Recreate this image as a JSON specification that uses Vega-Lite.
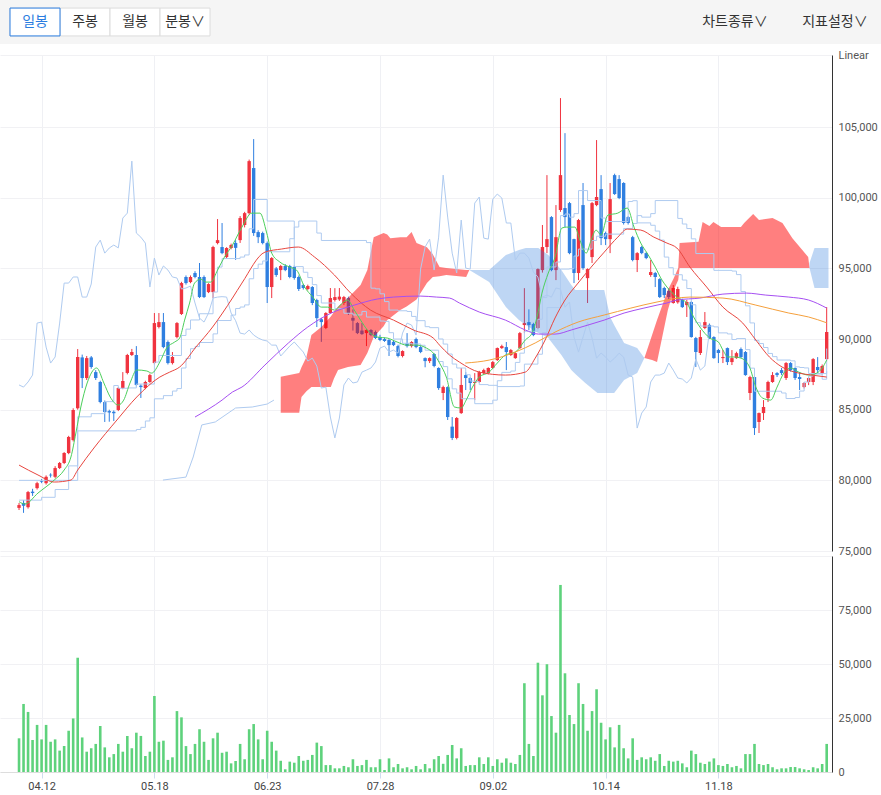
{
"$schema":"https://vega.github.io/schema/vega-lite/v6.json",
"padding":0,
"background":"#ffffff",
"bounds":"flush",
"spacing":11,
"config":{"view":{"stroke":null},"axis":{"labelFont":"Roboto","labelFontSize":11,"labelColor":"#555555"}},
"datasets":{
"tb":[{"b":"일봉"},{"b":"주봉"},{"b":"월봉"},{"b":"분봉∨"},{"b":"차트종류∨"},{"b":"지표설정∨"}],
"k":[
{"i":0,"o":78050,"h":78400,"l":77900,"c":78250,"v":15600,"g":86750},
{"i":1,"o":78400,"h":78600,"l":77700,"c":78200,"v":31500,"g":86600},
{"i":2,"o":78100,"h":79250,"l":78000,"c":79170,"v":27800,"g":86960},
{"i":3,"o":79200,"h":79400,"l":78900,"c":79100,"v":14800,"g":87450},
{"i":4,"o":79450,"h":79900,"l":79350,"c":79800,"v":21800,"g":91130},
{"i":5,"o":79950,"h":80100,"l":79800,"c":79900,"v":15100,"g":91200},
{"i":6,"o":79800,"h":80350,"l":79700,"c":80250,"v":21800,"g":89430},
{"i":7,"o":80400,"h":80500,"l":80200,"c":80350,"v":14000,"g":88300},
{"i":8,"o":80250,"h":81000,"l":80150,"c":80870,"v":15100,"g":88730},
{"i":9,"o":80870,"h":81300,"l":80800,"c":81230,"v":9900,"g":91130},
{"i":10,"o":81230,"h":82000,"l":81150,"c":81930,"v":12000,"g":93960},
{"i":11,"o":81930,"h":83150,"l":81850,"c":83070,"v":19100,"g":93960},
{"i":12,"o":82850,"h":85100,"l":82750,"c":84980,"v":24800,"g":94390},
{"i":13,"o":85100,"h":89290,"l":85000,"c":88730,"v":52900,"g":94390},
{"i":14,"o":88700,"h":88900,"l":86530,"c":87240,"v":16000,"g":92970},
{"i":15,"o":87240,"h":88800,"l":87100,"c":88650,"v":9400,"g":92970},
{"i":16,"o":88700,"h":88800,"l":87900,"c":88020,"v":11000,"g":93890},
{"i":17,"o":87660,"h":87800,"l":87100,"c":87240,"v":13000,"g":96510},
{"i":18,"o":86960,"h":87050,"l":85450,"c":85540,"v":21300,"g":97000},
{"i":19,"o":85540,"h":85650,"l":84130,"c":84830,"v":11400,"g":96080},
{"i":20,"o":84900,"h":85000,"l":84150,"c":84800,"v":6800,"g":96440},
{"i":21,"o":84850,"h":84950,"l":84200,"c":84750,"v":8300,"g":96650},
{"i":22,"o":84980,"h":86600,"l":84900,"c":86530,"v":13000,"g":96450},
{"i":23,"o":86530,"h":87660,"l":86450,"c":87030,"v":9400,"g":98560},
{"i":24,"o":87600,"h":88950,"l":87500,"c":88870,"v":16700,"g":98910},
{"i":25,"o":88870,"h":89300,"l":88800,"c":89080,"v":11000,"g":102590},
{"i":26,"o":88870,"h":89500,"l":86650,"c":86750,"v":18200,"g":97500},
{"i":27,"o":86700,"h":86800,"l":85830,"c":86600,"v":16700,"g":97210},
{"i":28,"o":86530,"h":87050,"l":86450,"c":86960,"v":7400,"g":96790},
{"i":29,"o":86960,"h":87550,"l":86900,"c":87450,"v":9400,"g":93680},
{"i":30,"o":88300,"h":91840,"l":88200,"c":91130,"v":35200,"g":95730},
{"i":31,"o":90850,"h":91840,"l":90750,"c":91200,"v":14000,"g":94530},
{"i":32,"o":91200,"h":91840,"l":89350,"c":89430,"v":14500,"g":95170},
{"i":33,"o":89790,"h":89900,"l":88200,"c":88300,"v":5600,"g":94880},
{"i":34,"o":88300,"h":89080,"l":88200,"c":88730,"v":6800,"g":94390},
{"i":35,"o":90140,"h":91200,"l":90050,"c":91130,"v":28200,"g":94320},
{"i":36,"o":91770,"h":94050,"l":91700,"c":93960,"v":25300,"g":93540},
{"i":37,"o":94390,"h":94500,"l":93850,"c":93960,"v":12000,"g":93610},
{"i":38,"o":94030,"h":94500,"l":93950,"c":94390,"v":8300,"g":93750},
{"i":39,"o":94670,"h":94800,"l":94300,"c":94390,"v":13000,"g":92550},
{"i":40,"o":94390,"h":95380,"l":92900,"c":92970,"v":19800,"g":91480},
{"i":41,"o":94390,"h":94500,"l":92900,"c":92970,"v":14000,"g":91200},
{"i":42,"o":93320,"h":93950,"l":93250,"c":93890,"v":5600,"g":91840},
{"i":43,"o":93320,"h":96600,"l":92900,"c":96510,"v":15600,"g":92900},
{"i":44,"o":96790,"h":98490,"l":96700,"c":97000,"v":18200,"g":92970},
{"i":45,"o":96510,"h":98210,"l":96000,"c":96080,"v":8900,"g":93000},
{"i":46,"o":95800,"h":96500,"l":95700,"c":96440,"v":9400,"g":92970},
{"i":47,"o":96440,"h":96750,"l":96350,"c":96650,"v":4000,"g":91840},
{"i":48,"o":96800,"h":97000,"l":95600,"c":96450,"v":5100,"g":91300},
{"i":49,"o":97000,"h":98700,"l":96800,"c":98560,"v":13000,"g":90420},
{"i":50,"o":98070,"h":99000,"l":97900,"c":98910,"v":5900,"g":90350},
{"i":51,"o":98910,"h":102700,"l":98800,"c":102590,"v":19800,"g":90640},
{"i":52,"o":102100,"h":104150,"l":97300,"c":97500,"v":22200,"g":90280},
{"i":53,"o":97570,"h":97700,"l":96790,"c":97210,"v":15100,"g":90070},
{"i":54,"o":97500,"h":97600,"l":96700,"c":96790,"v":5900,"g":89930},
{"i":55,"o":96790,"h":96900,"l":92550,"c":93680,"v":19100,"g":89860},
{"i":56,"o":93680,"h":95800,"l":92900,"c":95730,"v":14000,"g":89570},
{"i":57,"o":95000,"h":95100,"l":94400,"c":94530,"v":9900,"g":89570},
{"i":58,"o":94880,"h":95250,"l":94170,"c":95170,"v":5200,"g":88800},
{"i":59,"o":95170,"h":95300,"l":94800,"c":94880,"v":1250,"g":89150},
{"i":60,"o":95170,"h":95250,"l":94300,"c":94390,"v":4800,"g":89500},
{"i":61,"o":95100,"h":95200,"l":94200,"c":94320,"v":4300,"g":89790},
{"i":62,"o":94390,"h":94500,"l":93400,"c":93540,"v":7400,"g":89430},
{"i":63,"o":93820,"h":93900,"l":93500,"c":93610,"v":5200,"g":89080},
{"i":64,"o":93540,"h":93850,"l":93450,"c":93750,"v":5600,"g":88440},
{"i":65,"o":93680,"h":93750,"l":92400,"c":92550,"v":7900,"g":88650},
{"i":66,"o":92760,"h":92850,"l":90850,"c":91480,"v":13600,"g":88090},
{"i":67,"o":91400,"h":91500,"l":89800,"c":91200,"v":12000,"g":86530},
{"i":68,"o":90780,"h":91900,"l":90700,"c":91840,"v":3200,"g":86600},
{"i":69,"o":91840,"h":93610,"l":91800,"c":92900,"v":3200,"g":84480},
{"i":70,"o":92760,"h":93600,"l":92650,"c":92970,"v":1700,"g":83000},
{"i":71,"o":92800,"h":93610,"l":92700,"c":93000,"v":1700,"g":84410},
{"i":72,"o":92550,"h":93050,"l":92400,"c":92970,"v":2800,"g":86750},
{"i":73,"o":92900,"h":93000,"l":91700,"c":91840,"v":2200,"g":87240},
{"i":74,"o":91500,"h":92100,"l":90600,"c":91300,"v":5900,"g":86890},
{"i":75,"o":91130,"h":91200,"l":90350,"c":90420,"v":2800,"g":86960},
{"i":76,"o":90600,"h":91130,"l":90300,"c":90350,"v":3200,"g":87660},
{"i":77,"o":90420,"h":90700,"l":89500,"c":90640,"v":5600,"g":87800},
{"i":78,"o":90640,"h":90700,"l":90200,"c":90280,"v":2200,"g":87950},
{"i":79,"o":90500,"h":90600,"l":90000,"c":90070,"v":2200,"g":88370},
{"i":80,"o":90140,"h":90300,"l":89850,"c":89930,"v":5900,"g":89360},
{"i":81,"o":90000,"h":90100,"l":89800,"c":89860,"v":900,"g":89500},
{"i":82,"o":89930,"h":90000,"l":88800,"c":89570,"v":6300,"g":89080},
{"i":83,"o":89800,"h":89900,"l":89500,"c":89570,"v":2200,"g":89220},
{"i":84,"o":89500,"h":89600,"l":88700,"c":88800,"v":3700,"g":89000},
{"i":85,"o":88800,"h":89200,"l":88700,"c":89150,"v":1700,"g":90420},
{"i":86,"o":89700,"h":90420,"l":89400,"c":89500,"v":2200,"g":91130},
{"i":87,"o":89500,"h":89850,"l":89400,"c":89790,"v":1250,"g":90990},
{"i":88,"o":90000,"h":90100,"l":89350,"c":89430,"v":2800,"g":90280},
{"i":89,"o":89430,"h":89500,"l":89000,"c":89080,"v":1250,"g":94950},
{"i":90,"o":88650,"h":88700,"l":88000,"c":88440,"v":3700,"g":96510},
{"i":91,"o":88440,"h":88700,"l":88300,"c":88650,"v":1700,"g":97070},
{"i":92,"o":88940,"h":89000,"l":88000,"c":88090,"v":5900,"g":94880},
{"i":93,"o":87950,"h":88000,"l":86400,"c":86530,"v":7400,"g":97210},
{"i":94,"o":86180,"h":86700,"l":85680,"c":86600,"v":3800,"g":101600},
{"i":95,"o":86600,"h":86650,"l":84270,"c":84480,"v":7900,"g":98630},
{"i":96,"o":83800,"h":84480,"l":82850,"c":83000,"v":12500,"g":96080},
{"i":97,"o":83000,"h":84480,"l":82900,"c":84410,"v":6300,"g":94670},
{"i":98,"o":84760,"h":87950,"l":84700,"c":86750,"v":11000,"g":98420},
{"i":99,"o":87450,"h":87660,"l":86390,"c":87240,"v":2800,"g":95020},
{"i":100,"o":87240,"h":87300,"l":86390,"c":86890,"v":3200,"g":94950},
{"i":101,"o":86890,"h":87590,"l":85680,"c":86960,"v":3200,"g":99620},
{"i":102,"o":86960,"h":87750,"l":86900,"c":87660,"v":6800,"g":100050},
{"i":103,"o":87590,"h":87900,"l":87500,"c":87800,"v":3700,"g":97140},
{"i":104,"o":87590,"h":88000,"l":87500,"c":87950,"v":6800,"g":97070},
{"i":105,"o":87950,"h":88450,"l":87900,"c":88370,"v":2800,"g":99900},
{"i":106,"o":88510,"h":89400,"l":88450,"c":89360,"v":5900,"g":100260},
{"i":107,"o":89360,"h":89600,"l":89300,"c":89500,"v":4300,"g":99980},
{"i":108,"o":89430,"h":89790,"l":87800,"c":89080,"v":6300,"g":98210},
{"i":109,"o":88870,"h":89300,"l":88800,"c":89220,"v":4300,"g":98210},
{"i":110,"o":88650,"h":89050,"l":88600,"c":89000,"v":3700,"g":95590},
{"i":111,"o":89360,"h":90500,"l":89300,"c":90420,"v":7900,"g":96080},
{"i":112,"o":90990,"h":93600,"l":90420,"c":91130,"v":41100,"g":96080},
{"i":113,"o":91200,"h":92100,"l":90640,"c":90990,"v":13000,"g":95730},
{"i":114,"o":91060,"h":91150,"l":90200,"c":90280,"v":7400,"g":94740},
{"i":115,"o":90780,"h":95000,"l":90700,"c":94950,"v":50600,"g":94390},
{"i":116,"o":94880,"h":98070,"l":94700,"c":96510,"v":35500,"g":92970},
{"i":117,"o":96510,"h":101600,"l":96080,"c":97070,"v":49900,"g":93110},
{"i":118,"o":98630,"h":98700,"l":94800,"c":94880,"v":25900,"g":92970},
{"i":119,"o":94880,"h":99480,"l":94170,"c":97210,"v":18200,"g":93610},
{"i":120,"o":99130,"h":107050,"l":99000,"c":101600,"v":86600,"g":93540},
{"i":121,"o":99270,"h":104570,"l":97920,"c":98630,"v":45700,"g":92260},
{"i":122,"o":99620,"h":99700,"l":96000,"c":96080,"v":26400,"g":92620},
{"i":123,"o":97070,"h":97100,"l":93960,"c":94670,"v":22200,"g":90140},
{"i":124,"o":94670,"h":98500,"l":94170,"c":98420,"v":41100,"g":89080},
{"i":125,"o":99480,"h":101040,"l":94900,"c":95020,"v":31500,"g":90140},
{"i":126,"o":94310,"h":95000,"l":92550,"c":94950,"v":19100,"g":91200},
{"i":127,"o":95800,"h":99700,"l":95380,"c":99620,"v":28200,"g":90070},
{"i":128,"o":99480,"h":104080,"l":99400,"c":100050,"v":38300,"g":88650},
{"i":129,"o":100610,"h":101600,"l":96650,"c":97140,"v":22800,"g":89010},
{"i":130,"o":97500,"h":97600,"l":96650,"c":97070,"v":15100,"g":88730},
{"i":131,"o":97070,"h":101040,"l":96080,"c":99900,"v":20700,"g":88370},
{"i":132,"o":101600,"h":101700,"l":100200,"c":100260,"v":11400,"g":88650},
{"i":133,"o":101320,"h":101600,"l":99900,"c":99980,"v":21800,"g":89000},
{"i":134,"o":101040,"h":101100,"l":98100,"c":98210,"v":11000,"g":88720},
{"i":135,"o":98630,"h":98700,"l":98100,"c":98210,"v":6300,"g":87450},
{"i":136,"o":97210,"h":97300,"l":95500,"c":95590,"v":15600,"g":87310},
{"i":137,"o":95590,"h":96150,"l":94740,"c":96080,"v":5600,"g":83700},
{"i":138,"o":96510,"h":96600,"l":96000,"c":96080,"v":6800,"g":84760},
{"i":139,"o":96080,"h":96150,"l":95650,"c":95730,"v":5900,"g":85190},
{"i":140,"o":94530,"h":95590,"l":94400,"c":94740,"v":6800,"g":86960},
{"i":141,"o":94670,"h":94750,"l":93680,"c":94390,"v":5200,"g":87450},
{"i":142,"o":94240,"h":94300,"l":92900,"c":92970,"v":8300,"g":87450},
{"i":143,"o":93610,"h":93700,"l":92900,"c":93110,"v":2800,"g":87590},
{"i":144,"o":93400,"h":93600,"l":92800,"c":92970,"v":5200,"g":88300},
{"i":145,"o":92550,"h":93820,"l":92500,"c":93610,"v":4800,"g":87800},
{"i":146,"o":92600,"h":93700,"l":92500,"c":93540,"v":5200,"g":87240},
{"i":147,"o":92760,"h":92850,"l":92200,"c":92260,"v":4000,"g":87170},
{"i":148,"o":92400,"h":92760,"l":91560,"c":92620,"v":2200,"g":86890},
{"i":149,"o":92620,"h":92700,"l":90100,"c":90140,"v":9900,"g":87240},
{"i":150,"o":90070,"h":90150,"l":88020,"c":89080,"v":8300,"g":88580},
{"i":151,"o":89010,"h":90640,"l":88870,"c":90140,"v":4300,"g":87800},
{"i":152,"o":90780,"h":91910,"l":90700,"c":91200,"v":3700,"g":88090},
{"i":153,"o":91000,"h":91100,"l":90000,"c":90070,"v":4800,"g":90500},
{"i":154,"o":90140,"h":90200,"l":88600,"c":88650,"v":6300},
{"i":155,"o":89220,"h":89300,"l":88300,"c":89010,"v":3200},
{"i":156,"o":88650,"h":89220,"l":88300,"c":88730,"v":2800},
{"i":157,"o":89360,"h":89400,"l":88160,"c":88370,"v":3700},
{"i":158,"o":88370,"h":89220,"l":88160,"c":88650,"v":2200},
{"i":159,"o":88650,"h":89100,"l":88600,"c":89000,"v":2800},
{"i":160,"o":89290,"h":89400,"l":88650,"c":88720,"v":1700},
{"i":161,"o":89080,"h":89150,"l":87400,"c":87450,"v":8300},
{"i":162,"o":86180,"h":87400,"l":85680,"c":87310,"v":8300},
{"i":163,"o":87310,"h":87400,"l":83210,"c":83700,"v":13000},
{"i":164,"o":84130,"h":84800,"l":83350,"c":84760,"v":3700},
{"i":165,"o":84760,"h":85680,"l":84270,"c":85190,"v":3200},
{"i":166,"o":85820,"h":87050,"l":85540,"c":86960,"v":3700},
{"i":167,"o":86960,"h":87660,"l":86900,"c":87450,"v":2200},
{"i":168,"o":87590,"h":87660,"l":87310,"c":87450,"v":1250},
{"i":169,"o":87800,"h":87950,"l":87450,"c":87590,"v":1700},
{"i":170,"o":87240,"h":88370,"l":87100,"c":88300,"v":1700},
{"i":171,"o":88300,"h":88370,"l":87700,"c":87800,"v":2300},
{"i":172,"o":87950,"h":88000,"l":87100,"c":87240,"v":2300},
{"i":173,"o":87310,"h":87660,"l":86390,"c":87170,"v":1700},
{"i":174,"o":86600,"h":86950,"l":86500,"c":86890,"v":1250},
{"i":175,"o":86960,"h":87300,"l":86740,"c":87240,"v":900},
{"i":176,"o":86960,"h":88650,"l":86740,"c":88580,"v":2200},
{"i":177,"o":88020,"h":88720,"l":87590,"c":87800,"v":1700},
{"i":178,"o":87590,"h":88200,"l":87500,"c":88090,"v":3700},
{"i":179,"o":88580,"h":92260,"l":88500,"c":90500,"v":13000}
],
"cl":[
{"g":1,"k":"up","i":58.0,"a":87330,"b":84780},{"g":1,"k":"up","i":62.1,"a":87600,"b":84780},{"g":1,"k":"up","i":62.6,"a":88000,"b":85900},{"g":1,"k":"up","i":63.7,"a":88730,"b":86300},{"g":1,"k":"up","i":64.8,"a":90280,"b":86600},{"g":1,"k":"up","i":67,"a":90850,"b":86600},{"g":1,"k":"up","i":69.1,"a":91600,"b":86600},{"g":1,"k":"up","i":69.8,"a":91910,"b":87200},{"g":1,"k":"up","i":70.7,"a":92300,"b":87810},{"g":1,"k":"up","i":72.9,"a":92900,"b":88020},{"g":1,"k":"up","i":75.7,"a":93820,"b":88160},{"g":1,"k":"up","i":77.2,"a":94880,"b":89010},{"g":1,"k":"up","i":78.6,"a":97210,"b":90140},{"g":1,"k":"up","i":80.8,"a":97500,"b":90900},{"g":1,"k":"up","i":81.6,"a":97400,"b":91340},{"g":1,"k":"up","i":82.3,"a":97140,"b":91500},{"g":1,"k":"up","i":84.5,"a":97210,"b":92050},{"g":1,"k":"up","i":85.9,"a":97210,"b":92300},{"g":1,"k":"up","i":87,"a":97570,"b":92550},{"g":1,"k":"up","i":88.1,"a":96790,"b":92800},{"g":1,"k":"up","i":90.4,"a":96500,"b":93960},{"g":1,"k":"up","i":91.7,"a":96000,"b":94390},{"g":1,"k":"up","i":93.2,"a":95090,"b":94450},{"g":1,"k":"up","i":94.7,"a":95020,"b":94530},{"g":1,"k":"up","i":99.1,"a":94880,"b":94390},{"g":1,"k":"up","i":99.8,"a":94880,"b":94880},
{"g":2,"k":"dn","i":99.8,"a":94880,"b":94880},{"g":2,"k":"dn","i":104.2,"a":94880,"b":94030},{"g":2,"k":"dn","i":107.9,"a":95940,"b":92260},{"g":2,"k":"dn","i":110.8,"a":96300,"b":91340},{"g":2,"k":"dn","i":112.3,"a":96440,"b":90990},{"g":2,"k":"dn","i":115.1,"a":96440,"b":90420},{"g":2,"k":"dn","i":117.3,"a":95940,"b":90070},{"g":2,"k":"dn","i":120.2,"a":94880,"b":88870},{"g":2,"k":"dn","i":122.4,"a":93820,"b":87810},{"g":2,"k":"dn","i":123.3,"a":93470,"b":87520},{"g":2,"k":"dn","i":125.5,"a":93470,"b":86890},{"g":2,"k":"dn","i":128.2,"a":93470,"b":86180},{"g":2,"k":"dn","i":129.7,"a":93470,"b":86180},{"g":2,"k":"dn","i":131,"a":91560,"b":86180},{"g":2,"k":"dn","i":131.9,"a":90990,"b":86180},{"g":2,"k":"dn","i":134.1,"a":89720,"b":87100},{"g":2,"k":"dn","i":137,"a":89360,"b":87590},{"g":2,"k":"dn","i":138.6,"a":88650,"b":88650},
{"g":3,"k":"up","i":138.6,"a":88650,"b":88650},{"g":3,"k":"up","i":140.3,"a":90280,"b":88510},{"g":3,"k":"up","i":141.4,"a":91340,"b":88370},{"g":3,"k":"up","i":143.8,"a":93470,"b":92050},{"g":3,"k":"up","i":145.1,"a":94310,"b":93470},{"g":3,"k":"up","i":146.1,"a":95020,"b":94170},{"g":3,"k":"up","i":146.4,"a":96790,"b":95020},{"g":3,"k":"up","i":150.6,"a":96880,"b":95020},{"g":3,"k":"up","i":151.5,"a":98280,"b":95020},{"g":3,"k":"up","i":153,"a":98000,"b":95020},{"g":3,"k":"up","i":153.9,"a":98280,"b":95020},{"g":3,"k":"up","i":155.6,"a":97920,"b":95020},{"g":3,"k":"up","i":160,"a":97920,"b":95020},{"g":3,"k":"up","i":160.7,"a":98210,"b":95020},{"g":3,"k":"up","i":162.7,"a":98840,"b":95020},{"g":3,"k":"up","i":164,"a":98420,"b":95020},{"g":3,"k":"up","i":167,"a":98560,"b":95020},{"g":3,"k":"up","i":169.2,"a":98210,"b":95020},{"g":3,"k":"up","i":171.4,"a":97140,"b":95020},{"g":3,"k":"up","i":173.6,"a":96300,"b":95020},{"g":3,"k":"up","i":174.9,"a":95800,"b":95020},{"g":3,"k":"up","i":175.2,"a":95020,"b":95020},
{"g":4,"k":"dn","i":175.2,"a":95380,"b":95020},{"g":4,"k":"dn","i":176.3,"a":96440,"b":93610},{"g":4,"k":"dn","i":179.4,"a":96440,"b":93610}
],
"ov":[
{"s":"m5","i":0,"v":78490},{"s":"m5","i":1.3,"v":78325},{"s":"m5","i":4.2,"v":79100},{"s":"m5","i":7.8,"v":80020},{"s":"m5","i":10,"v":80730},{"s":"m5","i":11.5,"v":81650},{"s":"m5","i":12.6,"v":83350},{"s":"m5","i":13.7,"v":85190},{"s":"m5","i":15.1,"v":86890},{"s":"m5","i":17.2,"v":87950},{"s":"m5","i":18.8,"v":86890},{"s":"m5","i":20.2,"v":85900},{"s":"m5","i":22,"v":85330},{"s":"m5","i":23.2,"v":85680},{"s":"m5","i":24.6,"v":86890},{"s":"m5","i":26.1,"v":87810},{"s":"m5","i":28.3,"v":87740},{"s":"m5","i":29.4,"v":87590},{"s":"m5","i":31.2,"v":88370},{"s":"m5","i":32.7,"v":89360},{"s":"m5","i":34.5,"v":89790},{"s":"m5","i":35.6,"v":90070},{"s":"m5","i":36.7,"v":91340},{"s":"m5","i":37.8,"v":92550},{"s":"m5","i":38.9,"v":93960},{"s":"m5","i":40.3,"v":94240},{"s":"m5","i":41.4,"v":94030},{"s":"m5","i":42.5,"v":94030},{"s":"m5","i":44,"v":94880},{"s":"m5","i":45.4,"v":95730},{"s":"m5","i":47.3,"v":96650},{"s":"m5","i":49.4,"v":97920},{"s":"m5","i":51.6,"v":98910},{"s":"m5","i":53.4,"v":98910},{"s":"m5","i":54.9,"v":97500},{"s":"m5","i":56,"v":96080},{"s":"m5","i":57.8,"v":95450},{"s":"m5","i":60,"v":95090},{"s":"m5","i":61.5,"v":94880},{"s":"m5","i":63.3,"v":93680},{"s":"m5","i":65.1,"v":92970},{"s":"m5","i":67,"v":92260},{"s":"m5","i":68.4,"v":92260},{"s":"m5","i":69.9,"v":92050},{"s":"m5","i":71.7,"v":92550},{"s":"m5","i":72.8,"v":92760},{"s":"m5","i":74.3,"v":92050},{"s":"m5","i":75.7,"v":91340},{"s":"m5","i":77.2,"v":90640},{"s":"m5","i":79.4,"v":90140},{"s":"m5","i":81.6,"v":90070},{"s":"m5","i":83.8,"v":89790},{"s":"m5","i":85.9,"v":89570},{"s":"m5","i":88.1,"v":89570},{"s":"m5","i":90.3,"v":89360},{"s":"m5","i":91.8,"v":89010},{"s":"m5","i":93.2,"v":88300},{"s":"m5","i":94.7,"v":87310},{"s":"m5","i":96.5,"v":85190},{"s":"m5","i":98,"v":85120},{"s":"m5","i":99.1,"v":85680},{"s":"m5","i":100.5,"v":86600},{"s":"m5","i":102,"v":87310},{"s":"m5","i":104.2,"v":87660},{"s":"m5","i":106,"v":88300},{"s":"m5","i":107.8,"v":88870},{"s":"m5","i":110,"v":89080},{"s":"m5","i":112.2,"v":89930},{"s":"m5","i":113.7,"v":90420},{"s":"m5","i":114.8,"v":91560},{"s":"m5","i":115.9,"v":93250},{"s":"m5","i":117.3,"v":94670},{"s":"m5","i":118.8,"v":95800},{"s":"m5","i":120.3,"v":97850},{"s":"m5","i":121.3,"v":97920},{"s":"m5","i":123.2,"v":97920},{"s":"m5","i":124.3,"v":97000},{"s":"m5","i":125.7,"v":96080},{"s":"m5","i":126.8,"v":97000},{"s":"m5","i":127.9,"v":97710},{"s":"m5","i":129,"v":97360},{"s":"m5","i":130.5,"v":98770},{"s":"m5","i":132.7,"v":98910},{"s":"m5","i":134.8,"v":99270},{"s":"m5","i":136.3,"v":97920},{"s":"m5","i":137.8,"v":96790},{"s":"m5","i":139.2,"v":96080},{"s":"m5","i":141,"v":95090},{"s":"m5","i":142.5,"v":94170},{"s":"m5","i":143.6,"v":93680},{"s":"m5","i":145.8,"v":92970},{"s":"m5","i":148,"v":92550},{"s":"m5","i":149.5,"v":91560},{"s":"m5","i":150.9,"v":90850},{"s":"m5","i":153.1,"v":90070},{"s":"m5","i":155,"v":89790},{"s":"m5","i":156,"v":89220},{"s":"m5","i":157.1,"v":88730},{"s":"m5","i":158.6,"v":88730},{"s":"m5","i":160,"v":88650},{"s":"m5","i":161.9,"v":88020},{"s":"m5","i":163.3,"v":86600},{"s":"m5","i":164.8,"v":85820},{"s":"m5","i":166.6,"v":85680},{"s":"m5","i":168,"v":86600},{"s":"m5","i":169.5,"v":87590},{"s":"m5","i":171,"v":87950},{"s":"m5","i":172.8,"v":87660},{"s":"m5","i":175,"v":87450},{"s":"m5","i":176.8,"v":87590},{"s":"m5","i":178,"v":87950},{"s":"m5","i":179,"v":88510},
{"s":"m20","i":0,"v":81080},{"s":"m20","i":4.2,"v":80380},{"s":"m20","i":7.8,"v":79880},{"s":"m20","i":11.5,"v":80020},{"s":"m20","i":13,"v":80730},{"s":"m20","i":16.6,"v":82290},{"s":"m20","i":21.7,"v":84270},{"s":"m20","i":26.1,"v":85900},{"s":"m20","i":31.2,"v":87310},{"s":"m20","i":33.4,"v":87660},{"s":"m20","i":35.6,"v":88020},{"s":"m20","i":39.2,"v":89430},{"s":"m20","i":42.9,"v":90850},{"s":"m20","i":45.1,"v":91840},{"s":"m20","i":47.3,"v":92900},{"s":"m20","i":49.4,"v":93960},{"s":"m20","i":54.5,"v":96150},{"s":"m20","i":58.2,"v":96370},{"s":"m20","i":61.9,"v":96510},{"s":"m20","i":65.5,"v":95800},{"s":"m20","i":69.9,"v":94530},{"s":"m20","i":73.5,"v":93250},{"s":"m20","i":77.9,"v":92050},{"s":"m20","i":83,"v":91340},{"s":"m20","i":87.4,"v":90640},{"s":"m20","i":91.8,"v":90070},{"s":"m20","i":93.2,"v":89570},{"s":"m20","i":95.4,"v":88870},{"s":"m20","i":97.6,"v":88370},{"s":"m20","i":102,"v":87660},{"s":"m20","i":107.8,"v":87450},{"s":"m20","i":112.2,"v":87660},{"s":"m20","i":114.4,"v":88650},{"s":"m20","i":116.6,"v":89930},{"s":"m20","i":118.8,"v":91490},{"s":"m20","i":121,"v":92760},{"s":"m20","i":123.9,"v":93960},{"s":"m20","i":126.8,"v":95090},{"s":"m20","i":129.7,"v":96150},{"s":"m20","i":132.7,"v":97210},{"s":"m20","i":134.8,"v":97780},{"s":"m20","i":137.8,"v":97710},{"s":"m20","i":140.7,"v":97210},{"s":"m20","i":143.6,"v":96790},{"s":"m20","i":145.8,"v":96440},{"s":"m20","i":148.7,"v":95090},{"s":"m20","i":152.4,"v":93680},{"s":"m20","i":156,"v":92260},{"s":"m20","i":160.4,"v":91130},{"s":"m20","i":163.3,"v":89930},{"s":"m20","i":166.3,"v":88730},{"s":"m20","i":169.1,"v":88020},{"s":"m20","i":172.8,"v":87590},{"s":"m20","i":175.7,"v":87450},{"s":"m20","i":179,"v":87310},
{"s":"m60","i":39,"v":84480},{"s":"m60","i":45,"v":85680},{"s":"m60","i":47.3,"v":86250},{"s":"m60","i":49.4,"v":86600},{"s":"m60","i":54.5,"v":88160},{"s":"m60","i":59.7,"v":89720},{"s":"m60","i":64,"v":90850},{"s":"m60","i":69.2,"v":91840},{"s":"m60","i":74.3,"v":92400},{"s":"m60","i":79.4,"v":92830},{"s":"m60","i":83,"v":92970},{"s":"m60","i":88.9,"v":93040},{"s":"m60","i":92.5,"v":92970},{"s":"m60","i":95.4,"v":92900},{"s":"m60","i":97.6,"v":92550},{"s":"m60","i":102,"v":91910},{"s":"m60","i":107.8,"v":91340},{"s":"m60","i":112.2,"v":90640},{"s":"m60","i":115.1,"v":90350},{"s":"m60","i":118.8,"v":90350},{"s":"m60","i":122.4,"v":90640},{"s":"m60","i":126.1,"v":90990},{"s":"m60","i":129.7,"v":91340},{"s":"m60","i":134.1,"v":91840},{"s":"m60","i":138.5,"v":92190},{"s":"m60","i":141.4,"v":92400},{"s":"m60","i":143.6,"v":92550},{"s":"m60","i":145.8,"v":92760},{"s":"m60","i":150.9,"v":92900},{"s":"m60","i":156,"v":93180},{"s":"m60","i":161.2,"v":93250},{"s":"m60","i":165.5,"v":93110},{"s":"m60","i":170.6,"v":92970},{"s":"m60","i":175,"v":92760},{"s":"m60","i":179,"v":92190},
{"s":"m120","i":98.9,"v":88300},{"s":"m120","i":104.2,"v":88510},{"s":"m120","i":110,"v":89080},{"s":"m120","i":114.4,"v":89720},{"s":"m120","i":118.8,"v":90490},{"s":"m120","i":123.9,"v":91200},{"s":"m120","i":129.7,"v":91700},{"s":"m120","i":135.6,"v":92190},{"s":"m120","i":141.4,"v":92620},{"s":"m120","i":148.7,"v":92970},{"s":"m120","i":156,"v":92900},{"s":"m120","i":163.3,"v":92400},{"s":"m120","i":170.6,"v":91840},{"s":"m120","i":175,"v":91560},{"s":"m120","i":179,"v":91150},
{"s":"x4","i":31.9,"v":80020},{"s":"x4","i":37,"v":80230},{"s":"x4","i":38.6,"v":81650},{"s":"x4","i":40.5,"v":83920},{"s":"x4","i":43.5,"v":84130},{"s":"x4","i":48,"v":85120},{"s":"x4","i":51.7,"v":85190},{"s":"x4","i":55,"v":85400},{"s":"x4","i":56.5,"v":85680},
{"s":"tk","i":0,"v":78600},{"s":"tk","i":5,"v":78800},{"s":"tk","i":8,"v":79350},{"s":"tk","i":11,"v":81025},{"s":"tk","i":13,"v":84495},{"s":"tk","i":16,"v":84720},{"s":"tk","i":19,"v":85570},{"s":"tk","i":21,"v":86710},{"s":"tk","i":22,"v":86515},{"s":"tk","i":24,"v":86540},{"s":"tk","i":26,"v":86815},{"s":"tk","i":30,"v":88370},{"s":"tk","i":31,"v":88835},{"s":"tk","i":36,"v":90250},{"s":"tk","i":37,"v":90700},{"s":"tk","i":38,"v":91350},{"s":"tk","i":40,"v":91790},{"s":"tk","i":43,"v":93325},{"s":"tk","i":44,"v":95095},{"s":"tk","i":45,"v":95695},{"s":"tk","i":49,"v":95800},{"s":"tk","i":50,"v":95950},{"s":"tk","i":51,"v":97800},{"s":"tk","i":52,"v":99875},{"s":"tk","i":55,"v":98350},{"s":"tk","i":61,"v":95125},{"s":"tk","i":63,"v":94725},{"s":"tk","i":64,"v":94350},{"s":"tk","i":65,"v":93850},{"s":"tk","i":66,"v":93075},{"s":"tk","i":67,"v":92550},{"s":"tk","i":70,"v":92150},{"s":"tk","i":72,"v":91825},{"s":"tk","i":74,"v":91705},{"s":"tk","i":76,"v":91955},{"s":"tk","i":77,"v":91555},{"s":"tk","i":80,"v":91275},{"s":"tk","i":81,"v":91250},{"s":"tk","i":82,"v":90450},{"s":"tk","i":83,"v":90000},{"s":"tk","i":85,"v":89700},{"s":"tk","i":87,"v":89650},{"s":"tk","i":89,"v":89560},{"s":"tk","i":90,"v":89210},{"s":"tk","i":93,"v":88410},{"s":"tk","i":94,"v":88050},{"s":"tk","i":95,"v":87185},{"s":"tk","i":96,"v":86475},{"s":"tk","i":97,"v":86175},{"s":"tk","i":98,"v":85775},{"s":"tk","i":101,"v":85425},{"s":"tk","i":105,"v":85675},{"s":"tk","i":106,"v":87050},{"s":"tk","i":107,"v":87640},{"s":"tk","i":109,"v":87735},{"s":"tk","i":110,"v":88345},{"s":"tk","i":111,"v":89000},{"s":"tk","i":112,"v":90550},{"s":"tk","i":115,"v":91400},{"s":"tk","i":116,"v":92935},{"s":"tk","i":117,"v":95100},{"s":"tk","i":119,"v":95450},{"s":"tk","i":120,"v":98735},{"s":"tk","i":121,"v":98845},{"s":"tk","i":122,"v":98625},{"s":"tk","i":123,"v":98875},{"s":"tk","i":124,"v":100505},{"s":"tk","i":126,"v":99800},{"s":"tk","i":129,"v":98560},{"s":"tk","i":130,"v":98315},{"s":"tk","i":135,"v":99730},{"s":"tk","i":136,"v":99790},{"s":"tk","i":137,"v":98220},{"s":"tk","i":140,"v":98050},{"s":"tk","i":141,"v":97640},{"s":"tk","i":142,"v":97000},{"s":"tk","i":143,"v":95800},{"s":"tk","i":144,"v":95050},{"s":"tk","i":145,"v":94550},{"s":"tk","i":147,"v":94175},{"s":"tk","i":148,"v":93575},{"s":"tk","i":149,"v":92425},{"s":"tk","i":150,"v":91160},{"s":"tk","i":151,"v":90920},{"s":"tk","i":154,"v":90860},{"s":"tk","i":155,"v":90435},{"s":"tk","i":157,"v":90360},{"s":"tk","i":158,"v":89965},{"s":"tk","i":159,"v":90035},{"s":"tk","i":161,"v":89250},{"s":"tk","i":162,"v":87940},{"s":"tk","i":163,"v":86305},{"s":"tk","i":169,"v":86180},{"s":"tk","i":170,"v":85790},{"s":"tk","i":172,"v":85860},{"s":"tk","i":173,"v":86320},{"s":"tk","i":174,"v":86955},{"s":"tk","i":175,"v":87380},{"s":"tk","i":176,"v":87520},{"s":"tk","i":178,"v":87555},{"s":"tk","i":179,"v":89325},
{"s":"kj","i":0,"v":80000},{"s":"kj","i":13,"v":83500},{"s":"kj","i":26,"v":83600},{"s":"kj","i":27,"v":83750},{"s":"kj","i":28,"v":84200},{"s":"kj","i":29,"v":84425},{"s":"kj","i":30,"v":85770},{"s":"kj","i":32,"v":85995},{"s":"kj","i":34,"v":86320},{"s":"kj","i":35,"v":86495},{"s":"kj","i":36,"v":87950},{"s":"kj","i":37,"v":88625},{"s":"kj","i":38,"v":89315},{"s":"kj","i":39,"v":89465},{"s":"kj","i":40,"v":89755},{"s":"kj","i":43,"v":90365},{"s":"kj","i":44,"v":91310},{"s":"kj","i":47,"v":91695},{"s":"kj","i":48,"v":92160},{"s":"kj","i":49,"v":92265},{"s":"kj","i":50,"v":92415},{"s":"kj","i":51,"v":94265},{"s":"kj","i":52,"v":94990},{"s":"kj","i":53,"v":95300},{"s":"kj","i":54,"v":95525},{"s":"kj","i":55,"v":96175},{"s":"kj","i":60,"v":97100},{"s":"kj","i":61,"v":97925},{"s":"kj","i":62,"v":98350},{"s":"kj","i":66,"v":97500},{"s":"kj","i":67,"v":96975},{"s":"kj","i":77,"v":96825},{"s":"kj","i":78,"v":93600},{"s":"kj","i":79,"v":93550},{"s":"kj","i":80,"v":93200},{"s":"kj","i":81,"v":92650},{"s":"kj","i":82,"v":92050},{"s":"kj","i":84,"v":92000},{"s":"kj","i":86,"v":91950},{"s":"kj","i":87,"v":91600},{"s":"kj","i":88,"v":91300},{"s":"kj","i":90,"v":90875},{"s":"kj","i":91,"v":90805},{"s":"kj","i":93,"v":90005},{"s":"kj","i":94,"v":89645},{"s":"kj","i":95,"v":88940},{"s":"kj","i":96,"v":88230},{"s":"kj","i":97,"v":87950},{"s":"kj","i":99,"v":87475},{"s":"kj","i":100,"v":87025},{"s":"kj","i":101,"v":86990},{"s":"kj","i":102,"v":86775},{"s":"kj","i":104,"v":86725},{"s":"kj","i":106,"v":86635},{"s":"kj","i":111,"v":86675},{"s":"kj","i":112,"v":88225},{"s":"kj","i":115,"v":88925},{"s":"kj","i":116,"v":90460},{"s":"kj","i":117,"v":92225},{"s":"kj","i":120,"v":94950},{"s":"kj","i":122,"v":94975},{"s":"kj","i":123,"v":95875},{"s":"kj","i":124,"v":96365},{"s":"kj","i":127,"v":96975},{"s":"kj","i":128,"v":97275},{"s":"kj","i":130,"v":97425},{"s":"kj","i":134,"v":97825},{"s":"kj","i":136,"v":98175},{"s":"kj","i":137,"v":98735},{"s":"kj","i":138,"v":98625},{"s":"kj","i":140,"v":98875},{"s":"kj","i":141,"v":99800},{"s":"kj","i":146,"v":98535},{"s":"kj","i":147,"v":98140},{"s":"kj","i":148,"v":97820},{"s":"kj","i":149,"v":97090},{"s":"kj","i":150,"v":96050},{"s":"kj","i":154,"v":94860},{"s":"kj","i":158,"v":94810},{"s":"kj","i":159,"v":94560},{"s":"kj","i":160,"v":93360},{"s":"kj","i":161,"v":92350},{"s":"kj","i":162,"v":91140},{"s":"kj","i":163,"v":89905},{"s":"kj","i":164,"v":89680},{"s":"kj","i":165,"v":89400},{"s":"kj","i":166,"v":88980},{"s":"kj","i":167,"v":88755},{"s":"kj","i":168,"v":88515},{"s":"kj","i":171,"v":88455},{"s":"kj","i":172,"v":88030},{"s":"kj","i":173,"v":87985},{"s":"kj","i":174,"v":87955},{"s":"kj","i":175,"v":87560},{"s":"kj","i":178,"v":87155},{"s":"kj","i":179,"v":87735}
]
},
"vconcat":[
{
"width":881,"height":44,
"view":{"fill":"#f5f5f5","stroke":null},
"data":{"name":"tb"},
"encoding":{
"x":{"field":"b","type":"nominal","axis":null,"scale":{"domain":["일봉","주봉","월봉","분봉∨","_a","_b","_c","_d","_e","_f","_g","_h","_i","_j","차트종류∨","_k","지표설정∨"],"range":[10,860],"paddingInner":0,"paddingOuter":0}},
"y":{"datum":"r","type":"nominal","axis":null,"scale":{"domain":["r"],"paddingInner":0,"paddingOuter":0.29}}
},
"layer":[
{"transform":[{"filter":"indexof(['일봉','주봉','월봉','분봉∨'], datum.b) >= 0"}],"mark":{"type":"rect","fill":"#ffffff","stroke":"#dcdcdc","strokeWidth":1}},
{"transform":[{"filter":"datum.b == '일봉'"}],"mark":{"type":"rect","fill":"#ffffff","stroke":"#2b7de0","strokeWidth":1}},
{"mark":{"type":"text","font":"Noto Sans CJK KR","fontSize":14},"encoding":{"text":{"field":"b"},"color":{"condition":{"test":"datum.b == '일봉'","value":"#2b7de0"},"value":"#333333"}}}
]
},
{
"vconcat":[
{
"width":832,"height":496,
"encoding":{"x":{"field":"i","type":"quantitative","title":null,"scale":{"domain":[-3.11,179.07],"nice":false,"zero":false},"axis":{"values":[5,30,55,80,105,130,155],"labels":false,"ticks":false,"domain":false,"grid":true,"gridColor":"#eff0f4","title":null,"minExtent":0,"maxExtent":0}}},
"layer":[
{"data":{"name":"k"},"mark":{"type":"rule","strokeWidth":1},"encoding":{"y":{"field":"l","type":"quantitative","title":null,"scale":{"domain":[75000,110100],"nice":false,"zero":false},"axis":{"orient":"right","values":[75000,80000,85000,90000,95000,100000,105000,110100],"labelExpr":"datum.value > 110000 ? 'Linear' : format(datum.value, ',')","grid":true,"gridColor":"#f1f1f4","domainColor":"#333333","ticks":false,"labelPadding":6,"title":null}},"y2":{"field":"h"},"color":{"condition":{"test":"datum.c >= datum.o","value":"#f0333f"},"value":"#2f7fe0"}}},
{"data":{"name":"k"},"mark":{"type":"bar","width":3.4,"orient":"vertical"},"encoding":{"y":{"field":"o","type":"quantitative","title":null},"y2":{"field":"c"},"color":{"condition":{"test":"datum.c >= datum.o","value":"#f0333f"},"value":"#2f7fe0"}}},
{"data":{"name":"cl"},"mark":{"type":"area","clip":true,"orient":"vertical"},"encoding":{"y":{"field":"a","type":"quantitative","title":null},"y2":{"field":"b"},"detail":{"field":"g","type":"nominal"},"fill":{"field":"k","type":"nominal","scale":{"domain":["up","dn"],"range":["rgba(255,0,0,0.5)","rgba(40,120,220,0.3)"]},"legend":null}}},
{"data":{"name":"k"},"transform":[{"filter":"isValid(datum.g)"}],"mark":{"type":"line","color":"#afcbf0","strokeWidth":1},"encoding":{"y":{"field":"g","type":"quantitative","title":null}}},
{"data":{"name":"ov"},"transform":[{"filter":"datum.s == 'tk' || datum.s == 'kj'"}],"mark":{"type":"line","color":"#afcbf0","strokeWidth":1,"interpolate":"step-after"},"encoding":{"y":{"field":"v","type":"quantitative","title":null},"detail":{"field":"s","type":"nominal"}}},
{"data":{"name":"ov"},"transform":[{"filter":"datum.s == 'x4'"}],"mark":{"type":"line","color":"#afcbf0","strokeWidth":1},"encoding":{"y":{"field":"v","type":"quantitative","title":null}}},
{"data":{"name":"ov"},"transform":[{"filter":"indexof(['m5','m20','m60','m120'], datum.s) >= 0"}],"mark":{"type":"line","strokeWidth":1,"interpolate":"monotone"},"encoding":{"y":{"field":"v","type":"quantitative","title":null},"color":{"field":"s","type":"nominal","scale":{"domain":["m5","m20","m60","m120"],"range":["#4ccf5c","#e8463f","#a64ff2","#f5a03c"]},"legend":null}}}
]
},
{
"width":832,"height":216,
"data":{"name":"k"},
"mark":{"type":"bar","width":2.6,"orient":"vertical","color":"#5ed27c"},
"encoding":{
"x":{"field":"i","type":"quantitative","title":null,"scale":{"domain":[-3.11,179.07],"nice":false,"zero":false},"axis":{"values":[5,30,55,80,105,130,155],"labelExpr":"datum.value == 5 ? '04.12' : datum.value == 30 ? '05.18' : datum.value == 55 ? '06.23' : datum.value == 80 ? '07.28' : datum.value == 105 ? '09.02' : datum.value == 130 ? '10.14' : '11.18'","grid":true,"gridColor":"#eff0f4","domainColor":"#dddddd","tickColor":"#cfdcef","tickSize":6,"labelPadding":2,"labelColor":"#444444","title":null}},
"y":{"field":"v","type":"quantitative","title":null,"scale":{"domain":[0,100000],"nice":false},"axis":{"orient":"right","values":[0,25000,50000,75000,100000],"labelExpr":"datum.value == 100000 ? '' : format(datum.value, ',')","grid":true,"gridColor":"#f1f1f4","domainColor":"#333333","ticks":false,"labelPadding":6,"title":null}}
}
}
],
"spacing":5,
"bounds":"flush"
}
]
}
